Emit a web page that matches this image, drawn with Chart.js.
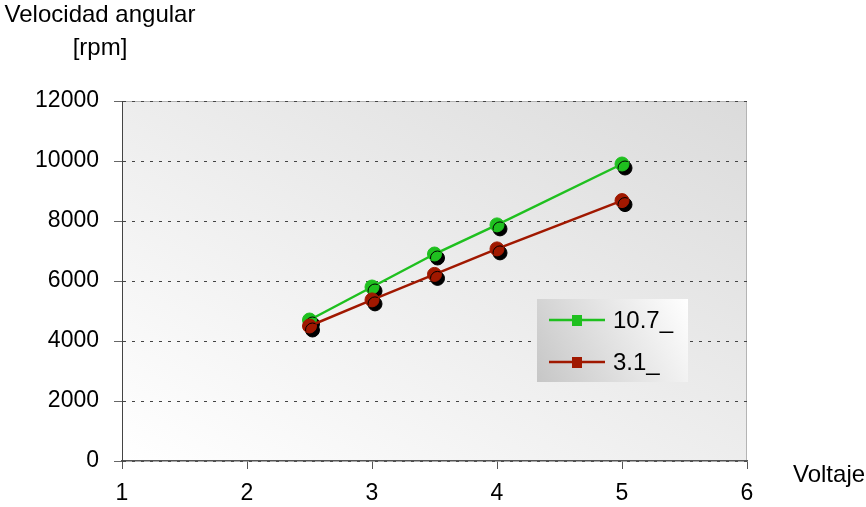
<!DOCTYPE html>
<html>
<head>
<meta charset="utf-8">
<script src="https://cdn.jsdelivr.net/npm/chart.js@4"></script>
<style>
  html, body { margin: 0; padding: 0; background: #fff; }
  #wrap { width: 866px; height: 507px; }
</style>
</head>
<body>
<div id="wrap"><canvas id="rpmChart" width="866" height="507"></canvas></div>
<script>
const voltaje = [2.5, 3, 3.5, 4, 5];
const rpm107 = [4700, 5800, 6900, 7870, 9900];
const rpm31 = [4500, 5370, 6220, 7070, 8680];
const xTicks = [1, 2, 3, 4, 5, 6];
const yTicks = [0, 2000, 4000, 6000, 8000, 10000, 12000];
const serieNames = ["10.7_", "3.1_"];
const serieColors = ["#1fc01f", "#a01800"];

const FONT = "'Liberation Sans', Arial, sans-serif";

function toPoints(xs, ys) {
  return xs.map((x, i) => ({ x: x, y: ys[i] }));
}

// gradient background + light frame on top/right
const plotBackground = {
  id: "plotBackground",
  beforeDraw(chart) {
    const { ctx, chartArea: a } = chart;
    const w = a.right - a.left, h = a.bottom - a.top;
    const c = (2 * w * h) / (w * w + h * h);
    const g = ctx.createLinearGradient(a.left, a.bottom, a.left + h * c, a.bottom - w * c);
    g.addColorStop(0, "#ffffff");
    g.addColorStop(1, "#dbdbdb");
    ctx.save();
    ctx.fillStyle = g;
    ctx.fillRect(a.left, a.top, w, h);
    ctx.strokeStyle = "#b4b4b4";
    ctx.lineWidth = 1;
    ctx.beginPath();
    ctx.moveTo(a.left, a.top + 0.5);
    ctx.lineTo(a.right - 0.5, a.top + 0.5);
    ctx.lineTo(a.right - 0.5, a.bottom);
    ctx.stroke();
    ctx.restore();
  }
};

// black drop shadow under the markers only
const markerShadow = {
  id: "markerShadow",
  beforeDatasetDraw(chart, args) {
    if (!chart.data.datasets[args.index].shadow) return;
    const ctx = chart.ctx;
    ctx.save();
    ctx.shadowColor = "#000";
    ctx.shadowBlur = 0;
    ctx.shadowOffsetX = 3;
    ctx.shadowOffsetY = 4;
  },
  afterDatasetDraw(chart, args) {
    if (!chart.data.datasets[args.index].shadow) return;
    chart.ctx.restore();
  }
};

// axis titles and the boxed legend
const annotations = {
  id: "annotations",
  afterDraw(chart) {
    const ctx = chart.ctx;
    ctx.save();
    ctx.fillStyle = "#000";
    ctx.font = "24px " + FONT;
    ctx.textBaseline = "alphabetic";
    ctx.textAlign = "center";
    ctx.fillText("Velocidad angular", 100, 22);
    ctx.fillText("[rpm]", 100, 55);
    ctx.textAlign = "left";
    ctx.fillText("Voltaje", 793, 482);

    // legend box
    const lx = 537, ly = 299, lw = 151, lh = 83;
    const g = ctx.createLinearGradient(lx, ly + lh, lx + lw, ly);
    g.addColorStop(0, "#c6c6c6");
    g.addColorStop(1, "#ffffff");
    ctx.fillStyle = g;
    ctx.fillRect(lx, ly, lw, lh);

    const lines = chart.data.datasets.filter(d => d.legend);
    lines.forEach((d, i) => {
      const y = ly + 21 + i * 42;
      ctx.strokeStyle = d.borderColor;
      ctx.lineWidth = 2.5;
      ctx.beginPath();
      ctx.moveTo(lx + 12, y);
      ctx.lineTo(lx + 68, y);
      ctx.stroke();
      ctx.fillStyle = d.borderColor;
      ctx.fillRect(lx + 35, y - 5, 10, 11);
      ctx.fillStyle = "#000";
      ctx.textBaseline = "middle";
      ctx.textAlign = "left";
      ctx.fillText(d.label, lx + 76, y + 1);
    });
    ctx.restore();
  }
};

const ctx = document.getElementById("rpmChart").getContext("2d");
const chart = new Chart(ctx, {
  type: "line",
  data: {
    datasets: [
      { label: serieNames[0], data: toPoints(voltaje, rpm107), legend: true, pointRadius: 0,
        borderColor: serieColors[0], borderWidth: 2.5, order: 3 },
      { label: serieNames[0], data: toPoints(voltaje, rpm107), showLine: false, shadow: true,
        pointRadius: 7, pointBorderWidth: 1, backgroundColor: serieColors[0], borderColor: serieColors[0], order: 2 },
      { label: serieNames[1], data: toPoints(voltaje, rpm31), legend: true, pointRadius: 0,
        borderColor: serieColors[1], borderWidth: 2.5, order: 1 },
      { label: serieNames[1], data: toPoints(voltaje, rpm31), showLine: false, shadow: true,
        pointRadius: 7, pointBorderWidth: 1, backgroundColor: serieColors[1], borderColor: serieColors[1], order: 0 }
    ]
  },
  options: {
    responsive: false,
    animation: false,
    layout: { padding: { top: 101, right: 119, left: 0, bottom: 0 } },
    plugins: {
      legend: { display: false },
      tooltip: { enabled: false }
    },
    scales: {
      x: {
        type: "linear",
        min: xTicks[0],
        max: xTicks[xTicks.length - 1],
        afterBuildTicks: s => { s.ticks = xTicks.map(v => ({ value: v })); },
        afterFit: s => { s.height = 46; },
        grid: { drawOnChartArea: false, drawTicks: true, tickLength: 8, color: "#555", lineWidth: 1 },
        border: { color: "#555", width: 1.5 },
        ticks: { color: "#000", font: { family: FONT, size: 23 }, padding: 11, maxRotation: 0 }
      },
      y: {
        min: yTicks[0],
        max: yTicks[yTicks.length - 1],
        afterBuildTicks: s => { s.ticks = yTicks.map(v => ({ value: v })); },
        afterFit: s => { s.width = 122; },
        grid: { color: "#444", lineWidth: 1, tickLength: 8, tickColor: "#666", tickBorderDash: [] },
        border: { color: "#444", width: 1, dash: [3, 6] },
        ticks: { color: "#000", font: { family: FONT, size: 23 }, padding: 15, callback: v => String(v) }
      }
    }
  },
  plugins: [plotBackground, markerShadow, annotations]
});
</script>
</body>
</html>
